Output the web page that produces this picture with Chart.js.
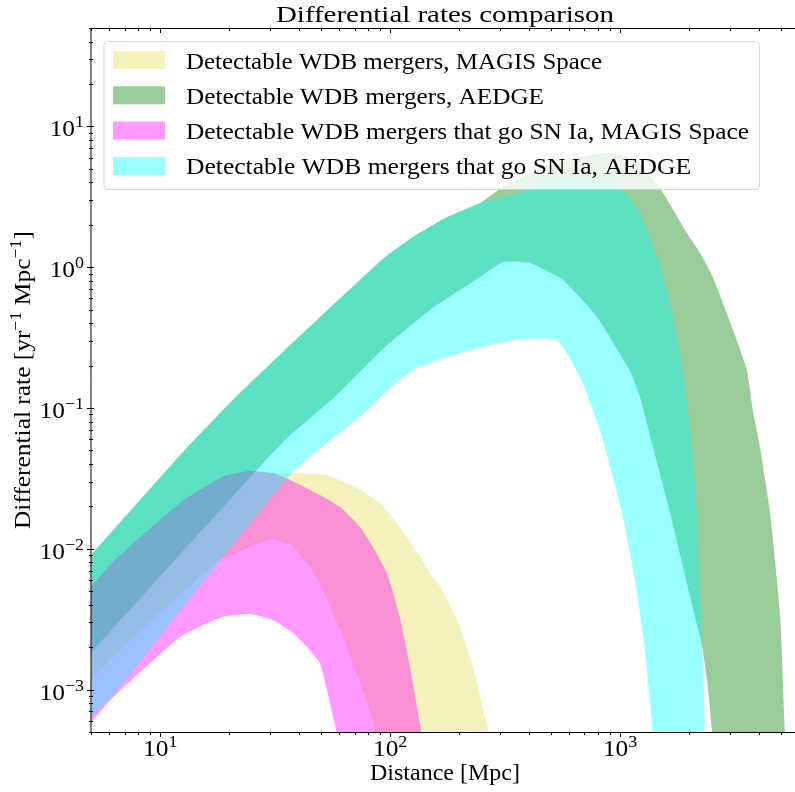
<!DOCTYPE html>
<html>
<head>
<meta charset="utf-8">
<title>Differential rates comparison</title>
<script src="https://cdn.jsdelivr.net/npm/chart.js@4.4.1/dist/chart.umd.min.js"></script>
<style>
  html, body { margin: 0; padding: 0; background: #fff; overflow: hidden; }
  canvas { display: block; }
</style>
</head>
<body>
<canvas id="graficoTaxas" width="800" height="792"></canvas>
<script>
// Band edges: [distance in Mpc, differential rate in yr^-1 Mpc^-1]
const magisAllUpper = [
  [5.0, 5.3e-3], [6.05, 7.7e-3], [12.2, 2.12e-2], [18.6, 3.24e-2], [24.6, 3.57e-2],
  [32.2, 3.45e-2], [53.1, 3.34e-2], [73.9, 2.62e-2], [90.3, 2.12e-2], [110, 1.43e-2],
  [135, 8.8e-3], [149, 6.7e-3], [165, 5.4e-3], [201, 2.8e-3], [229, 1.45e-3],
  [253, 7.5e-4], [269, 4.0e-4]
];
const magisAllLower = [
  [5.0, 1.17e-3], [6.17, 1.70e-3], [12.4, 4.86e-3], [18.2, 8.3e-3], [27.2, 1.10e-2],
  [30.9, 1.17e-2], [37.4, 1.06e-2], [43.5, 7.9e-3], [49.5, 5.7e-3], [56.4, 3.5e-3],
  [64.9, 2.0e-3], [73.9, 1.11e-3], [84.2, 6.1e-4], [89.0, 4.0e-4]
];
const aedgeAllUpper = [
  [5.0, 9.0e-3], [12.8, 5.03e-2], [20.7, 0.114], [34.9, 0.258], [95.0, 1.18],
  [126, 1.64], [177, 2.27], [246, 2.86], [300, 3.59], [496, 5.32], [818, 6.47],
  [1140, 5.97], [1490, 3.65], [1950, 1.75], [2230, 1.26], [2530, 0.852], [3100, 0.358],
  [3560, 0.186], [3780, 0.097], [4060, 5.28e-2], [4490, 1.80e-2], [4960, 3.44e-3],
  [5210, 5.2e-4], [5260, 4.0e-4]
];
const aedgeAllLower = [
  [5.0, 1.82e-3], [25.8, 3.51e-2], [34.9, 5.93e-2], [57.5, 0.120], [95.0, 0.271],
  [149, 0.497], [246, 0.852], [310, 1.09], [406, 1.07], [565, 0.811], [793, 0.443],
  [1100, 0.186], [1220, 0.120], [1390, 5.28e-2], [1650, 1.80e-2], [1915, 6.5e-3],
  [2160, 2.9e-3], [2270, 2.07e-3], [2390, 1.17e-3], [2510, 5.2e-4], [2535, 4.0e-4]
];
const magisSnUpper = [
  [5.0, 5.3e-3], [6.05, 7.7e-3], [12.2, 2.12e-2], [18.6, 3.24e-2], [24.6, 3.57e-2],
  [30.9, 3.45e-2], [36.7, 3.08e-2], [49.5, 2.41e-2], [60.5, 1.98e-2], [73.9, 1.43e-2],
  [84.2, 1.03e-2], [96.9, 6.7e-3], [110, 3.3e-3], [122, 1.45e-3], [131, 7.5e-4],
  [135.5, 4.0e-4]
];
const magisSnLower = [
  [5.0, 5.8e-4], [6.05, 8.4e-4], [12.2, 2.36e-3], [18.6, 3.28e-3], [24.6, 3.44e-3],
  [30.9, 3.12e-3], [37.4, 2.56e-3], [43.5, 2.01e-3], [49.5, 1.55e-3], [53.7, 9.2e-4],
  [58.7, 4.9e-4], [59.6, 4.0e-4]
];
const aedgeSnUpper = [
  [5.0, 9.0e-3], [12.8, 5.03e-2], [20.7, 0.114], [34.9, 0.258], [95.0, 1.18],
  [126, 1.64], [177, 2.27], [246, 2.86], [367, 3.37], [471, 4.16], [624, 4.37],
  [818, 4.16], [999, 3.71], [1220, 2.43], [1490, 1.07], [1700, 0.443], [1880, 0.186],
  [2055, 5.28e-2], [2160, 1.80e-2], [2226, 6.0e-3], [2271, 2.25e-3], [2317, 9.9e-4],
  [2340, 4.9e-4], [2365, 4.0e-4]
];
const aedgeSnLower = [
  [5.0, 6.4e-4], [6.17, 8.9e-4], [17.3, 7.4e-3], [37.4, 3.45e-2], [48.6, 5.03e-2],
  [75.4, 8.9e-2], [95.0, 0.128], [126, 0.186], [177, 0.230], [272, 0.280],
  [378, 0.309], [532, 0.304], [669, 0.166], [818, 6.98e-2], [1020, 1.80e-2],
  [1160, 6.0e-3], [1280, 2.0e-3], [1390, 4.9e-4], [1400, 4.0e-4]
];

const legendLabels = [
  "Detectable WDB mergers, MAGIS Space",
  "Detectable WDB mergers, AEDGE",
  "Detectable WDB mergers that go SN Ia, MAGIS Space",
  "Detectable WDB mergers that go SN Ia, AEDGE"
];
const bandColors = [
  "rgba(240, 230, 140, 0.6)",
  "rgba(0, 128, 0, 0.4)",
  "rgba(255, 0, 255, 0.4)",
  "rgba(0, 255, 255, 0.4)"
];
const xTickValues = [10, 100, 1000];
const xTickExps = ["1", "2", "3"];
const yTickValues = [1e-3, 1e-2, 1e-1, 1, 10];
const yTickExps = ["\u22123", "\u22122", "\u22121", "0", "1"];

const bands = [
  [magisAllUpper, magisAllLower],
  [aedgeAllUpper, aedgeAllLower],
  [magisSnUpper, magisSnLower],
  [aedgeSnUpper, aedgeSnLower]
];

// closed outline: upper edge left->right, lower edge back right->left
function bandOutline(upper, lower) {
  return upper.concat(lower.slice().reverse()).map(([x, y]) => ({ x, y }));
}

const SERIF = '"Liberation Serif", "Times New Roman", serif';
// Computer Modern sets wider than Times, so each run is stretched to its width
const legendWidths = [416, 358, 563, 505];
let stretch = 1;

// parts: [text, size, raise]; width (optional) fixes the total run width
function drawParts(ctx, parts, x, y, align, width) {
  const natural = parts.map(([t, size]) => {
    ctx.font = size + "px " + SERIF;
    return ctx.measureText(t).width;
  });
  const sum = natural.reduce((a, b) => a + b, 0);
  const k = width ? width / sum : stretch;
  const total = sum * k;
  let px = align === "center" ? x - total / 2 : align === "right" ? x - total : x;
  parts.forEach(([t, size, raise], i) => {
    ctx.font = size + "px " + SERIF;
    ctx.save();
    ctx.translate(px, y - raise);
    ctx.scale(k, 1);
    ctx.fillText(t, 0, 0);
    ctx.restore();
    px += natural[i] * k;
  });
}

function pow10(exp) {
  return [["10", 24, 0], [exp, 17, 9]];
}

function roundRect(ctx, x, y, w, h, r) {
  ctx.beginPath();
  ctx.moveTo(x + r, y);
  ctx.arcTo(x + w, y, x + w, y + h, r);
  ctx.arcTo(x + w, y + h, x, y + h, r);
  ctx.arcTo(x, y + h, x, y, r);
  ctx.arcTo(x, y, x + w, y, r);
  ctx.closePath();
}

const axesFrame = {
  id: "axesFrame",
  afterDatasetsDraw(chart) {
    const ctx = chart.ctx;
    const { left, right, top, bottom } = chart.chartArea;
    const xs = chart.scales.x, ys = chart.scales.y;

    ctx.save();
    ctx.textAlign = "left";
    ctx.textBaseline = "alphabetic";
    ctx.font = "24px " + SERIF;
    stretch = legendWidths[2] / ctx.measureText(legendLabels[2]).width;

    // legend
    roundRect(ctx, 104, 41.5, 655.5, 148, 4);
    ctx.fillStyle = "rgba(255, 255, 255, 0.8)";
    ctx.fill();
    ctx.strokeStyle = "rgba(204, 204, 204, 0.8)";
    ctx.lineWidth = 1;
    ctx.stroke();
    legendLabels.forEach((label, i) => {
      const rowTop = 51 + i * 35.3;
      ctx.fillStyle = bandColors[i];
      ctx.fillRect(113, rowTop, 52, 18);
      ctx.fillStyle = "#000";
      drawParts(ctx, [[label, 24, 0]], 186, rowTop + 17.5, "left", legendWidths[i]);
    });

    // spines
    ctx.strokeStyle = "#000";
    ctx.lineWidth = 1;
    ctx.beginPath();
    ctx.moveTo(left, top + 0.5); ctx.lineTo(right, top + 0.5);
    ctx.moveTo(left, bottom + 0.5); ctx.lineTo(right, bottom + 0.5);
    ctx.moveTo(left, top); ctx.lineTo(left, bottom + 1);
    ctx.moveTo(right, top); ctx.lineTo(right, bottom + 1);
    ctx.stroke();

    // log ticks
    ctx.beginPath();
    for (let d = 1; d <= 1000; d *= 10) {
      for (let m = 1; m <= 9; m++) {
        const v = m * d;
        if (v < xs.min || v > xs.max) continue;
        const px = Math.round(xs.getPixelForValue(v)) + 0.5;
        const len = m === 1 ? 5 : 3;
        ctx.moveTo(px, bottom); ctx.lineTo(px, bottom + len);
        ctx.moveTo(px, top); ctx.lineTo(px, top + len);
      }
    }
    for (let d = 1e-4; d <= 10; d *= 10) {
      for (let m = 1; m <= 9; m++) {
        const v = m * d;
        if (v < ys.min * 0.999 || v > ys.max * 1.001) continue;
        const py = Math.round(ys.getPixelForValue(v)) + 0.5;
        if (m === 1) { ctx.moveTo(left - 4, py); ctx.lineTo(left + 3, py); }
        else { ctx.moveTo(left - 2, py); ctx.lineTo(left + 2, py); }
      }
    }
    ctx.stroke();

    // tick labels
    ctx.fillStyle = "#000";
    xTickValues.forEach((v, i) => {
      drawParts(ctx, pow10(xTickExps[i]), xs.getPixelForValue(v), 756, "center");
    });
    yTickValues.forEach((v, i) => {
      drawParts(ctx, pow10(yTickExps[i]), 84, ys.getPixelForValue(v) + 10, "right");
    });

    // titles
    drawParts(ctx, [["Differential rates comparison", 24, 0]], (left + right) / 2, 22, "center", 338);
    drawParts(ctx, [["Distance [Mpc]", 24, 0]], (left + right) / 2, 780, "center", 150);
    ctx.save();
    ctx.translate(30, (top + bottom) / 2);
    ctx.rotate(-Math.PI / 2);
    drawParts(ctx, [
      ["Differential rate [yr", 24, 0], ["\u22121", 17, 9],
      [" Mpc", 24, 0], ["\u22121", 17, 9], ["]", 24, 0]
    ], 0, 0, "center", 298);
    ctx.restore();

    ctx.restore();
  }
};

const canvas = document.getElementById("graficoTaxas");
const grafico = new Chart(canvas, {
  type: "line",
  data: {
    datasets: bands.map(([upper, lower], i) => ({
      label: legendLabels[i],
      data: bandOutline(upper, lower),
      backgroundColor: bandColors[i],
      borderColor: "transparent",
      borderWidth: 0,
      pointRadius: 0,
      tension: 0.15,
      fill: "shape",
      order: bands.length - i  // first band at the bottom
    }))
  },
  options: {
    responsive: false,
    animation: false,
    events: [],
    layout: { padding: { left: 91, top: 28, right: 1, bottom: 60 } },
    scales: {
      x: { type: "logarithmic", min: 5, max: 6000, display: false },
      y: { type: "logarithmic", min: 5e-4, max: 50, display: false }
    },
    plugins: {
      legend: { display: false },
      tooltip: { enabled: false }
    }
  },
  plugins: [axesFrame]
});
</script>
</body>
</html>
